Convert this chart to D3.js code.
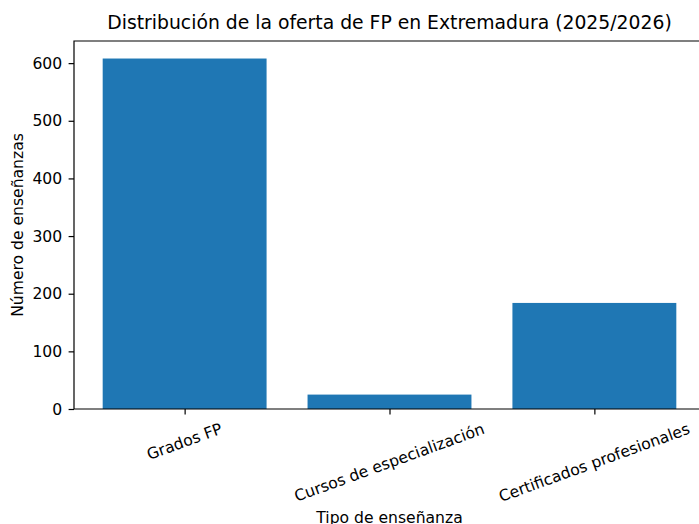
<!DOCTYPE html>
<html>
<head>
<meta charset="utf-8">
<script src="https://cdn.jsdelivr.net/npm/d3@7"></script>
<style>
  body { margin: 0; background: #fff; }
  svg { display: block; overflow: hidden; }
  text { font-family: "DejaVu Sans", sans-serif; fill: #000; }
</style>
</head>
<body>
<script>
// datos
const categorias = ['Grados FP', 'Cursos de especialización', 'Certificados profesionales'];
const valores = [608, 25, 184];
const ticksY = [0, 100, 200, 300, 400, 500, 600];

const width = 699;
const height = 524;
const mLeft = 74, mRight = 705, mTop = 41, mBottom = 409;
const fs = 15.6;      // tamaño de las etiquetas
const tick = 5.4;     // largo del tick y separación

const svg = d3.select('body').append('svg')
    .attr('width', width)
    .attr('height', height);

// como matplotlib: barras en 0,1,2 con ancho 0.8 y margen 5%
const x = d3.scaleLinear()
    .domain([-0.54, categorias.length - 1 + 0.54])
    .range([mLeft, mRight]);

const y = d3.scaleLinear()
    .domain([0, d3.max(valores) * 1.05])
    .range([mBottom, mTop]);

svg.append('g')
    .selectAll('rect')
    .data(valores)
    .enter().append('rect')
    .attr('x', (d, i) => x(i - 0.4))
    .attr('width', x(0.4) - x(-0.4))
    .attr('y', d => y(d))
    .attr('height', d => y(0) - y(d))
    .attr('fill', '#1f77b4');

// eje y
const yAxis = svg.append('g')
    .attr('transform', `translate(${mLeft},0)`)
    .call(d3.axisLeft(y).tickValues(ticksY).tickSize(tick).tickPadding(tick + 1));
yAxis.select('.domain').remove();
yAxis.selectAll('line').attr('stroke', '#000').attr('stroke-width', 1.2);
yAxis.selectAll('text').style('font-size', fs + 'px').style('font-family', '"DejaVu Sans", sans-serif');

// eje x
const xAxis = svg.append('g')
    .attr('transform', `translate(0,${mBottom})`)
    .call(d3.axisBottom(x).tickValues(d3.range(categorias.length)).tickSize(tick).tickFormat(''));
xAxis.select('.domain').remove();
xAxis.selectAll('line').attr('stroke', '#000').attr('stroke-width', 1.2);

// etiquetas giradas 20 grados, centradas bajo el tick
const ang = 20 * Math.PI / 180;
const labels = svg.append('g');
categorias.forEach((c, i) => {
    const t = labels.append('text')
        .attr('text-anchor', 'middle')
        .attr('dominant-baseline', 'central')
        .style('font-size', fs + 'px')
        .text(c);
    const w = t.node().getComputedTextLength();
    const h = fs * 1.17;
    const bh = w * Math.sin(ang) + h * Math.cos(ang);
    const cx = x(i);
    const cy = mBottom + 2 * tick + bh / 2;
    t.attr('transform', `translate(${cx},${cy}) rotate(-20)`);
});

// marco
svg.append('path')
    .attr('d', `M${mLeft},${mBottom}V${mTop}H${mRight}V${mBottom}Z`)
    .attr('fill', 'none')
    .attr('stroke', '#000')
    .attr('stroke-width', 1.2);

// título y rótulos
svg.append('text')
    .attr('x', (mLeft + mRight) / 2)
    .attr('y', 29)
    .attr('text-anchor', 'middle')
    .style('font-size', '18.8px')
    .text('Distribución de la oferta de FP en Extremadura (2025/2026)');

svg.append('text')
    .attr('x', (mLeft + mRight) / 2)
    .attr('y', 523)
    .attr('text-anchor', 'middle')
    .style('font-size', fs + 'px')
    .text('Tipo de enseñanza');

svg.append('text')
    .attr('transform', `translate(23,${(mTop + mBottom) / 2}) rotate(-90)`)
    .attr('text-anchor', 'middle')
    .style('font-size', fs + 'px')
    .text('Número de enseñanzas');
</script>
</body>
</html>
